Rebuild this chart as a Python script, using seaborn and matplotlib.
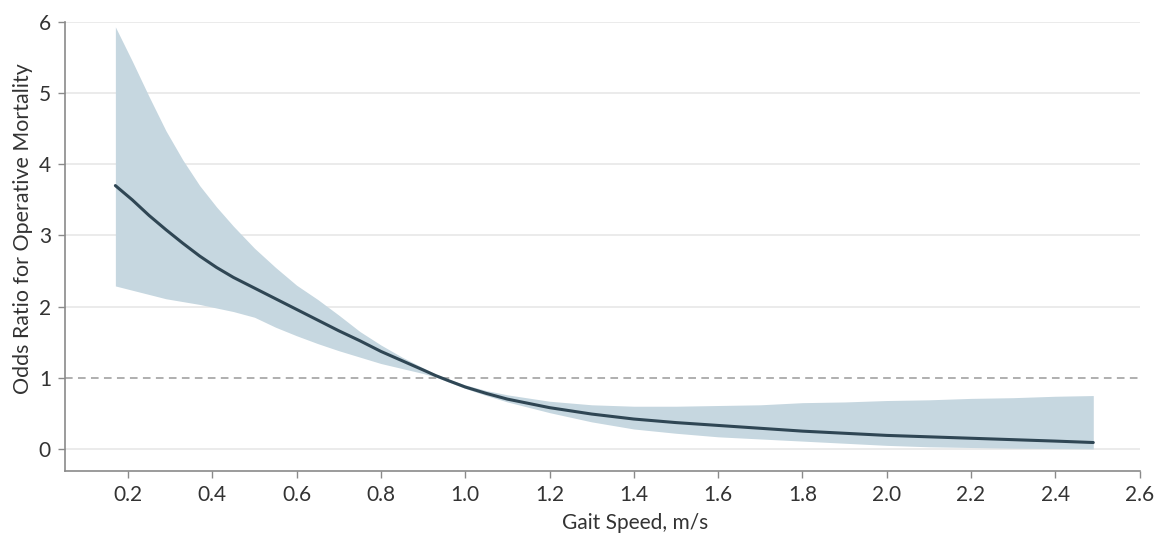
import numpy as np
import pandas as pd
import matplotlib
matplotlib.use("Agg")
import matplotlib.pyplot as plt
import seaborn as sns

gait_speed = [0.17, 0.21, 0.25, 0.29, 0.33, 0.37, 0.41, 0.45, 0.50, 0.55, 0.60, 0.65,
              0.70, 0.75, 0.80, 0.85, 0.90, 0.93, 0.96, 1.00, 1.05, 1.10, 1.20, 1.30,
              1.40, 1.50, 1.60, 1.70, 1.80, 1.90, 2.00, 2.10, 2.20, 2.30, 2.40, 2.49]
odds_ratio = [3.70, 3.50, 3.28, 3.08, 2.89, 2.71, 2.55, 2.41, 2.26, 2.11, 1.96, 1.81,
              1.66, 1.52, 1.37, 1.24, 1.11, 1.03, 0.96, 0.87, 0.78, 0.70, 0.58, 0.49,
              0.42, 0.37, 0.33, 0.29, 0.25, 0.22, 0.19, 0.17, 0.15, 0.13, 0.11, 0.09]
ci_upper = [5.93, 5.45, 4.95, 4.47, 4.06, 3.70, 3.40, 3.13, 2.82, 2.55, 2.30, 2.10,
            1.88, 1.65, 1.46, 1.29, 1.14, 1.05, 0.98, 0.90, 0.82, 0.76, 0.67, 0.62,
            0.60, 0.60, 0.61, 0.62, 0.65, 0.66, 0.68, 0.69, 0.71, 0.72, 0.74, 0.75]
ci_lower = [2.29, 2.23, 2.17, 2.11, 2.07, 2.03, 1.98, 1.93, 1.85, 1.71, 1.59, 1.48,
            1.38, 1.29, 1.20, 1.13, 1.06, 1.01, 0.94, 0.85, 0.75, 0.66, 0.51, 0.38,
            0.28, 0.22, 0.17, 0.14, 0.11, 0.08, 0.05, 0.03, 0.02, 0.01, 0.005, 0.0]

x_ticks = [0.2, 0.4, 0.6, 0.8, 1.0, 1.2, 1.4, 1.6, 1.8, 2.0, 2.2, 2.4, 2.6]
y_ticks = [0, 1, 2, 3, 4, 5, 6]

df = pd.DataFrame({"speed": gait_speed, "or": odds_ratio,
                   "lo": ci_lower, "hi": ci_upper})

sns.set_style("white")
plt.rcParams["font.family"] = ["Lato", "DejaVu Sans"]

fig = plt.figure(figsize=(11.57, 5.34), dpi=100)
ax = fig.add_axes([0.056, 0.118, 0.929, 0.841])

for y in y_ticks:
    if y != 1:
        ax.axhline(y, color="#e8e8e8", lw=1.2, zorder=0)
ax.axhline(1, color="#9a9a9a", lw=1.1, ls=(0, (5, 3.5)), zorder=1)

ax.fill_between(df["speed"], df["lo"], df["hi"], color="#c6d7e0", lw=0, zorder=2)
sns.lineplot(data=df, x="speed", y="or", ax=ax, color="#2f4654", lw=2.2, zorder=3)

ax.set_xlim(0.05, 2.6)
ax.set_ylim(-0.31, 6.0)
ax.set_xticks(x_ticks)
ax.set_xticklabels([f"{t:.1f}" for t in x_ticks])
ax.set_yticks(y_ticks)
ax.set_yticklabels([str(t) for t in y_ticks])

for s in ["top", "right"]:
    ax.spines[s].set_visible(False)
for s in ["left", "bottom"]:
    ax.spines[s].set_color("#8a8a8a")
    ax.spines[s].set_linewidth(1.2)

ax.tick_params(axis="both", which="major", length=5, width=1, color="#8a8a8a",
               labelsize=15, labelcolor="#333333", direction="out", pad=5,
               bottom=True, left=True)
ax.set_xlabel("Gait Speed, m/s", fontsize=15, color="#333333")
ax.set_ylabel("Odds Ratio for Operative Mortality", fontsize=15.4, color="#333333")
ax.xaxis.set_label_coords(0.531, -0.093)
ax.yaxis.set_label_coords(-0.030, 0.539)

fig.savefig("out.png", dpi=100)
